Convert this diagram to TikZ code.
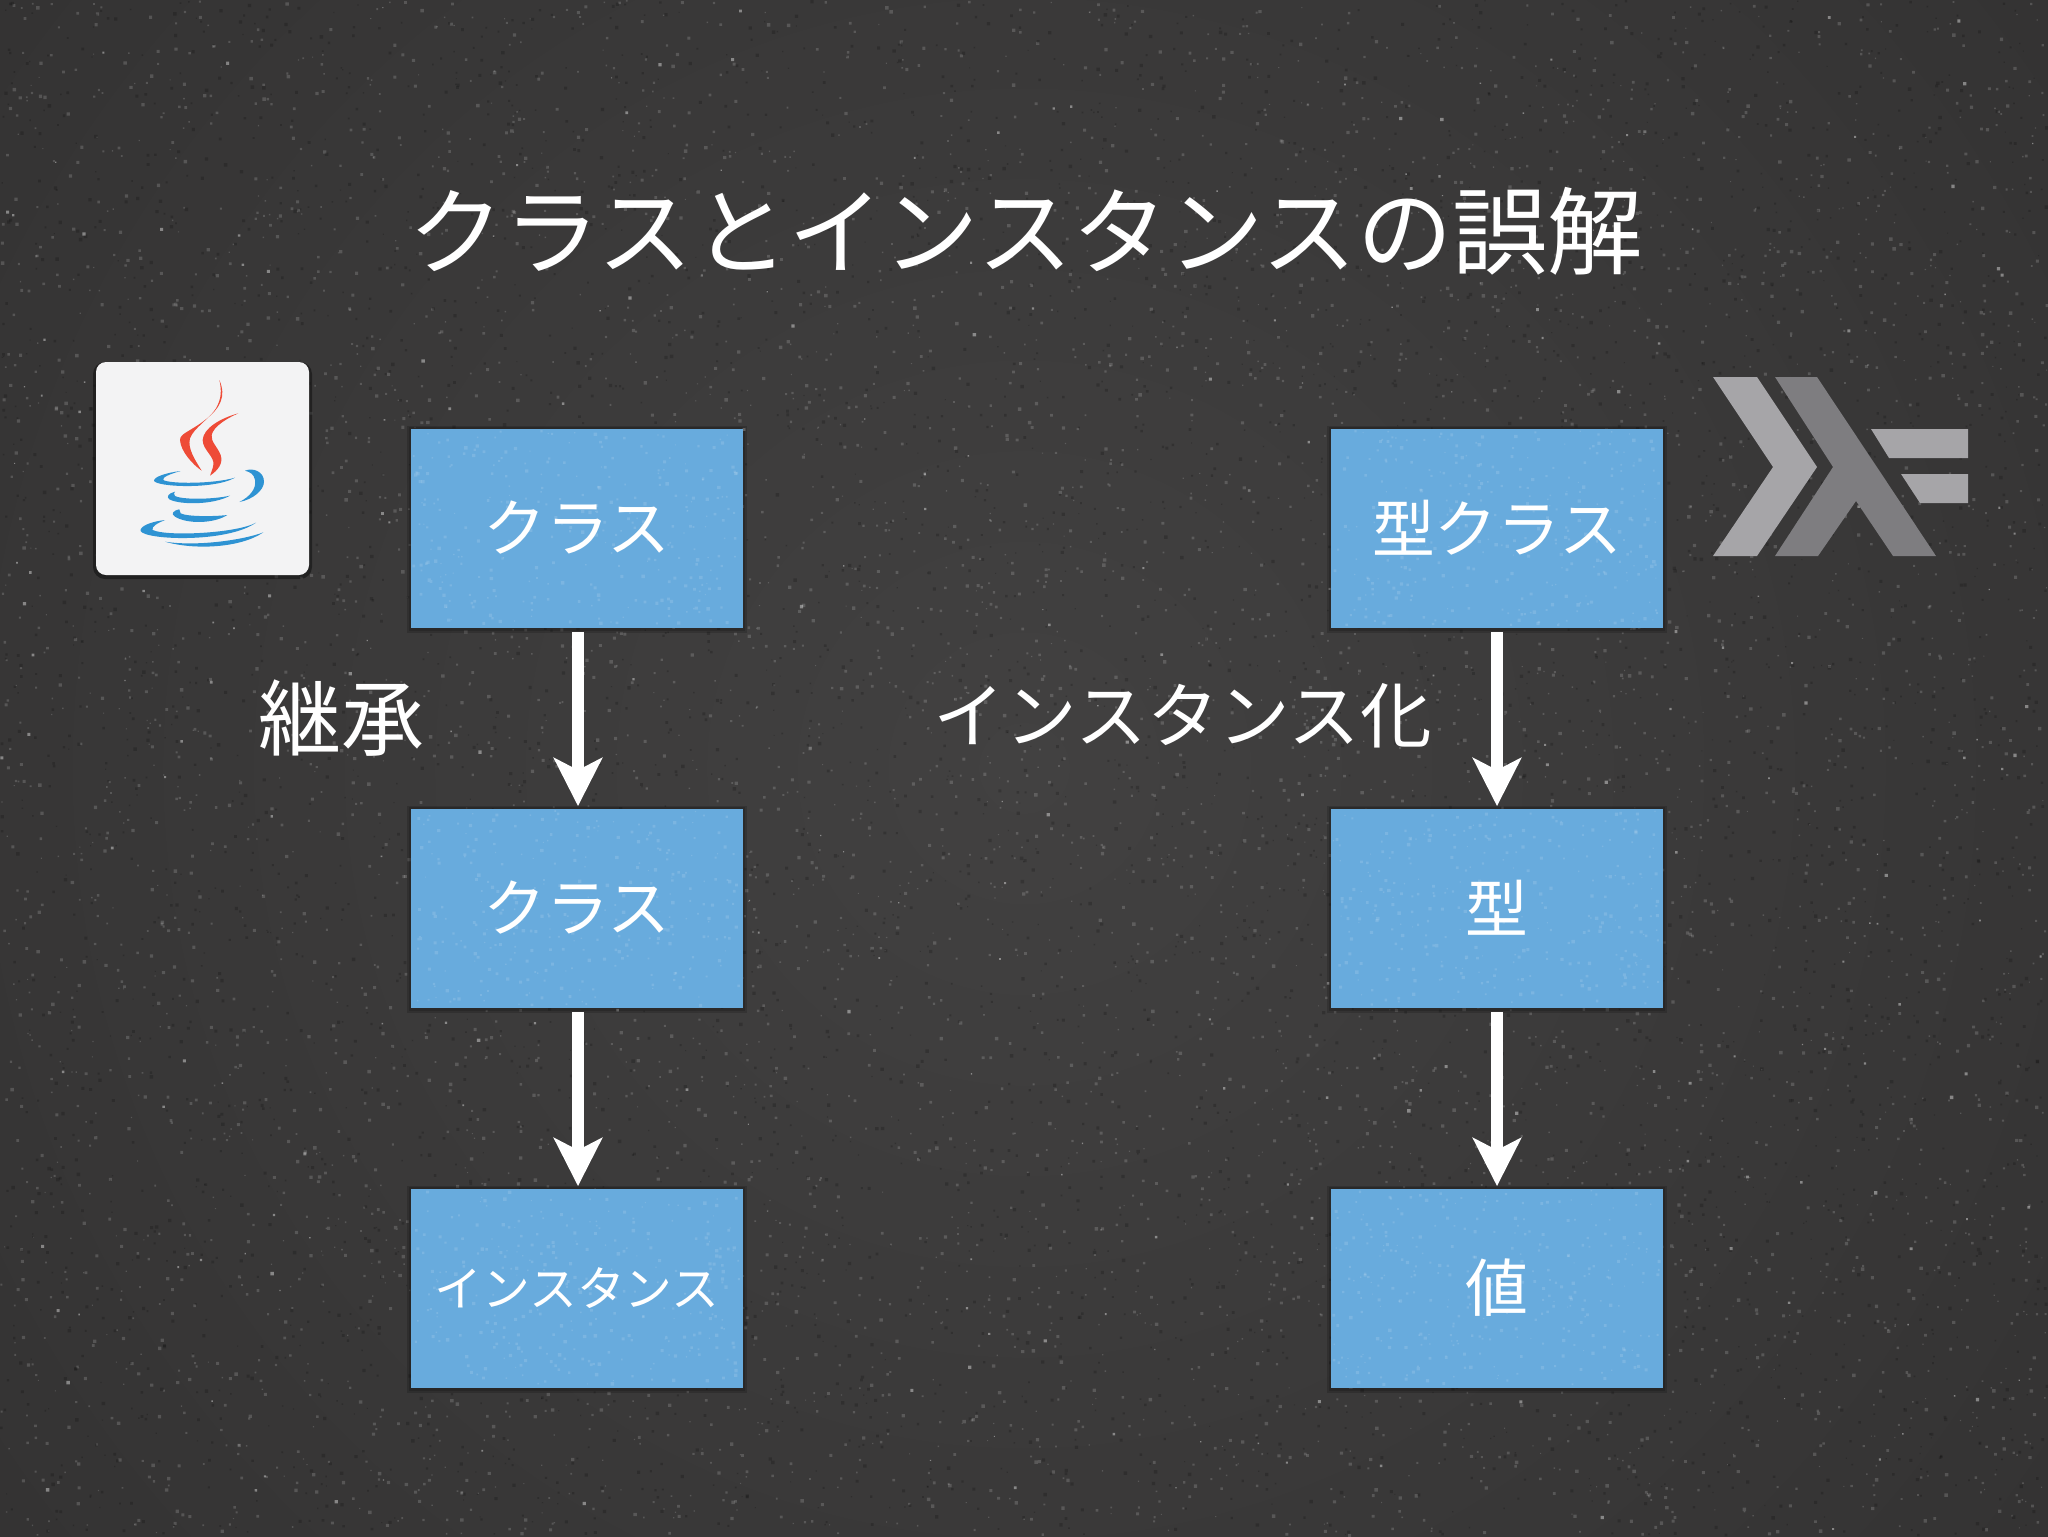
\documentclass[tikz,border=0pt]{standalone}
\usepackage{fontspec}
\usetikzlibrary{arrows.meta}
\newfontfamily\jp{Noto Sans CJK JP}
\definecolor{bginner}{HTML}{424141}
\definecolor{bgouter}{HTML}{323131}
\definecolor{iconc}{HTML}{F3F3F4}
\definecolor{boxc}{HTML}{68ABDD}
\definecolor{hlight}{HTML}{A6A5A8}
\definecolor{hdark}{HTML}{7E7D80}
\definecolor{jred}{HTML}{EE4B37}
\definecolor{jblue}{HTML}{2E93D3}
% colour, opacity, number of batches of 100, x0, y0, width, height
\newcommand{\specks}[7]{%
  \foreach \c in {1,...,#3}{
    \fill[#1,opacity=#2] \foreach \i [evaluate=\i as \px using #4+rnd*#6, evaluate=\i as \py using #5+rnd*#7, evaluate=\i as \pr using 1+rnd*2.5] in {1,...,100}{(\px,\py) rectangle ++(\pr,\pr)};
  }}
\tikzset{
  x=0.5pt,y=-0.5pt,
  conceptbox/.style={draw=none,fill=boxc,minimum width=166pt,minimum height=99.5pt,inner sep=0pt,text=white,font=\jp\fontsize{31.4}{32}\selectfont},
  smallbox/.style={conceptbox,font=\jp\fontsize{23.9}{24}\selectfont},
  linkarrow/.style={draw=white,line width=6pt,shorten <=2pt,shorten >=1pt,-{Stealth[length=24pt,width=24pt,inset=6pt,fill=white]}},
  headline/.style={text=white,inner sep=0pt,font=\jp\fontsize{47.7}{48}\selectfont},
  edgelabel/.style={text=white,inner sep=0pt},
  boxshade/.style={fill=black,opacity=.16},
}
\begin{document}
\begin{tikzpicture}
\useasboundingbox (0,0) rectangle (2048,1536);
\begin{scope}
\clip (-2,-2) rectangle (2050,1538);
\shade[inner color=bginner,outer color=bgouter] (1024,768) circle[radius=1450];
\end{scope}
\pgfmathsetseed{42}
\specks{white}{0.16}{60}{0}{0}{2046}{1534}
\specks{black}{0.18}{50}{0}{0}{2046}{1534}
\specks{white}{0.40}{3}{0}{0}{2046}{1534}
% title
\node[headline] (title) at (1026,231) {クラスとインスタンスの誤解};
% box shadows
\foreach \cx/\cy in {577/528,577/908,577/1288,1497/528,1497/908,1497/1288}{
  \fill[boxshade] (\cx-170,\cy-102) rectangle (\cx+170,\cy+105);
  \fill[boxshade] (\cx-168,\cy-101) rectangle (\cx+168,\cy+103);
}
% left column
\node[conceptbox] (c1) at (577,528) {クラス};
\node[conceptbox] (c2) at (577,908) {クラス};
\node[smallbox] (c3) at (577,1288) {インスタンス};
% right column
\node[conceptbox] (t1) at (1497,528) {型クラス};
\node[conceptbox] (t2) at (1497,908) {型};
\node[conceptbox] (t3) at (1497,1288) {値};
% box grain: white specks leave the white text unchanged
\specks{white}{0.13}{3}{412}{430}{326}{194}
\specks{white}{0.13}{3}{412}{810}{326}{194}
\specks{white}{0.13}{3}{412}{1190}{326}{194}
\specks{white}{0.13}{3}{1332}{430}{326}{194}
\specks{white}{0.13}{3}{1332}{810}{326}{194}
\specks{white}{0.13}{3}{1332}{1190}{326}{194}
% connectors
\draw[linkarrow] ([xshift=.5pt]c1.south) -- ([xshift=.5pt]c2.north);
\draw[linkarrow] ([xshift=.5pt]c2.south) -- ([xshift=.5pt]c3.north);
\draw[linkarrow] (t1) -- (t2);
\draw[linkarrow] (t2) -- (t3);
% labels
\node[edgelabel,font=\jp\fontsize{41.5}{42}\selectfont] (l1) at (341,718) {継承};
\node[edgelabel,font=\jp\fontsize{35.8}{36}\selectfont] (l2) at (1183,716) {インスタンス化};
% java icon
\fill[black,opacity=.4,rounded corners=6pt] (93,362) rectangle (312,579);
\fill[iconc,rounded corners=5pt] (96,362) rectangle (309,575);
\begin{scope}[shift={(80,340)},x=0.16667pt,y=-0.16667pt]
\fill[jred] (418,120) .. controls (440,170) and (420,205) .. (375,240) .. controls (330,275) and (300,280) .. (300,300) .. controls (302,335) and (340,375) .. (365,392) .. controls (345,360) and (322,325) .. (330,295) .. controls (340,265) and (390,235) .. (408,205) .. controls (425,175) and (425,150) .. (418,120) -- cycle;
\fill[jred] (475,220) .. controls (420,235) and (370,265) .. (368,300) .. controls (368,330) and (405,350) .. (400,375) .. controls (398,390) and (392,398) .. (390,407) .. controls (415,390) and (430,370) .. (422,345) .. controls (412,320) and (392,305) .. (395,285) .. controls (400,260) and (440,235) .. (475,220) -- cycle;
\fill[jblue] (302,393) .. controls (260,398) and (222,410) .. (222,422) .. controls (225,440) and (400,450) .. (465,413) .. controls (400,432) and (270,432) .. (250,420) .. controls (245,412) and (270,402) .. (302,393) -- cycle;
\fill[jblue] (495,392) .. controls (520,382) and (552,395) .. (552,425) .. controls (552,450) and (520,478) .. (478,486) .. controls (510,470) and (530,445) .. (525,420) .. controls (522,402) and (510,396) .. (495,392) -- cycle;
\fill[jblue] (285,455) .. controls (265,460) and (258,470) .. (268,478) .. controls (300,495) and (400,495) .. (450,467) .. controls (400,478) and (310,480) .. (285,468) .. controls (280,463) and (282,458) .. (285,455) -- cycle;
\fill[jblue] (298,508) .. controls (278,512) and (272,522) .. (285,530) .. controls (320,552) and (400,552) .. (442,525) .. controls (400,530) and (320,530) .. (302,520) .. controls (298,516) and (298,512) .. (298,508) -- cycle;
\fill[jblue] (255,540) .. controls (210,545) and (178,560) .. (182,573) .. controls (195,600) and (440,610) .. (528,548) .. controls (470,580) and (260,590) .. (218,570) .. controls (212,560) and (235,548) .. (255,540) -- cycle;
\fill[jblue] (255,605) .. controls (340,630) and (480,625) .. (550,577) .. controls (490,600) and (350,620) .. (255,605) -- cycle;
\end{scope}
% haskell logo
\fill[hlight] (1713,377) -- (1757,377) -- (1817,467) -- (1757,556) -- (1713,556) -- (1773,467) -- cycle;
\fill[hdark] (1775,377) -- (1817,377) -- (1936,556) -- (1893,556) -- (1856,501) -- (1818,556) -- (1775,556) -- (1833,467) -- cycle;
\fill[hlight] (1871,429) -- (1968,429) -- (1968,458) -- (1889,458) -- cycle;
\fill[hlight] (1901,474) -- (1968,474) -- (1968,503) -- (1920,503) -- cycle;
\end{tikzpicture}
\end{document}
